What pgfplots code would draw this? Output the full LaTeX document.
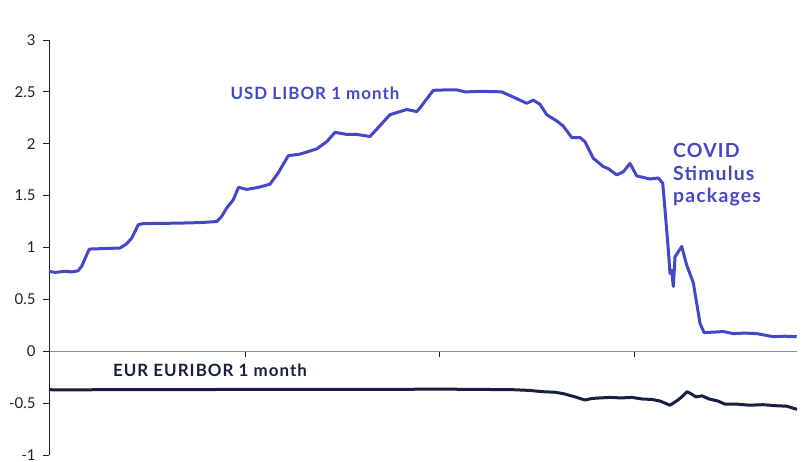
\documentclass[border=0pt]{standalone}
\usepackage{pgfplots}
\pgfplotsset{compat=1.18}
\usepackage{fontspec}
\setmainfont{Lato}
\newfontfamily\lbl{Lato}[LetterSpace=6]
\definecolor{usdblue}{HTML}{4447C8}
\definecolor{eurnavy}{HTML}{17203F}
\definecolor{tickcol}{HTML}{1F1F2E}
\definecolor{zerogray}{HTML}{8C8C8C}
\begin{document}
\begin{tikzpicture}
\begin{axis}[
  name=ax,
  scale only axis,
  width=748bp, height=415bp,
  xmin=49, xmax=797, ymin=-1, ymax=3,
  axis x line=middle, axis y line=left,
  x axis line style={-, draw=zerogray, line width=1.2bp},
  y axis line style={-, draw=tickcol, line width=1bp},
  xtick={245,439,634}, xticklabels={},
  ytick={-1,-0.5,0,0.5,1,1.5,2,2.5,3},
  yticklabels={-1,-0.5,0,0.5,1,1.5,2,2.5,3},
  tick align=outside,
  major tick length=6bp,
  x tick style={draw=tickcol, line width=0.8bp},
  y tick style={draw=tickcol, line width=0.8bp},
  yticklabel style={font=\fontsize{15}{18}\selectfont, text=tickcol, anchor=east, xshift=-4bp},
  clip=false,
]
\addplot[color=eurnavy, line width=3bp, line join=round] coordinates {
(49,-0.371) (80,-0.372) (120,-0.369) (150,-0.370) (200,-0.369) (250,-0.368)
(300,-0.368) (350,-0.368) (400,-0.367) (440,-0.365) (480,-0.368) (512,-0.370)
(530,-0.378) (543,-0.390) (555,-0.395) (564,-0.410) (575,-0.44) (585,-0.47)
(592,-0.455) (600,-0.45) (610,-0.445) (621,-0.45) (632,-0.445) (642,-0.46)
(652,-0.465) (660,-0.48) (670,-0.52) (678,-0.47) (683,-0.43) (687,-0.39)
(691,-0.41) (696,-0.44) (702,-0.43) (709,-0.46) (718,-0.48) (725,-0.51)
(737,-0.51) (750,-0.52) (763,-0.515) (776,-0.525) (787,-0.53) (797,-0.56)
};
\addplot[color=usdblue, line width=3bp, line join=round] coordinates {
(49,0.77) (55,0.76) (65,0.77) (72,0.765) (78,0.775) (81.7,0.82) (89.3,0.985)
(105,0.99) (120,0.995) (126,1.03) (131.7,1.09) (138.3,1.22) (143.3,1.23)
(180,1.235) (200,1.24) (216.7,1.25) (221.7,1.30) (226.7,1.38) (233.3,1.46)
(238.5,1.58) (246.7,1.56) (258.3,1.58) (270,1.61) (278.3,1.72) (288.3,1.885)
(300,1.90) (310,1.93) (316.7,1.95) (326.7,2.02) (335,2.11) (346.7,2.09)
(356.7,2.09) (370,2.07) (376.7,2.14) (390,2.28) (406.7,2.33) (416.7,2.31)
(420,2.345) (425,2.41) (433.3,2.515) (448.3,2.52) (456.7,2.52) (465,2.50)
(483.3,2.505) (501.7,2.50) (513.3,2.45) (526.7,2.39) (533.3,2.42) (540,2.38)
(546.7,2.28) (556.7,2.22) (563.3,2.17) (571.7,2.06) (580,2.06) (585,2.02)
(593.3,1.86) (603.3,1.78) (608.3,1.76) (616.7,1.70) (623.3,1.73) (630,1.81)
(636.7,1.69) (650,1.66) (658.3,1.67) (662.7,1.62) (665,1.365) (668.3,0.98)
(670,0.75) (671.7,0.78) (673.3,0.625) (675,0.91) (681.7,1.01) (686.7,0.83)
(693.3,0.66) (700,0.27) (704,0.18) (715,0.185) (723.3,0.19) (733.3,0.17)
(745,0.175) (756.7,0.17) (765,0.155) (773.3,0.14) (785,0.145) (796.7,0.14)
};
\node[text=usdblue, font=\lbl\fontsize{17}{20}\selectfont\bfseries] at (axis cs:315,2.483) {USD LIBOR 1 month};
\node[text=eurnavy, font=\lbl\fontsize{17}{20}\selectfont\bfseries] at (axis cs:210,-0.188) {EUR EURIBOR 1 month};
\node[text=usdblue, font=\lbl\fontsize{19.5}{22.5}\selectfont\bfseries, align=left, anchor=west, inner sep=0pt] at (axis cs:673,1.70) {COVID\\Stimulus\\packages};
\end{axis}
\pgfresetboundingbox
\path[use as bounding box] ([shift={(-49bp,-7bp)}]ax.south west) rectangle ([shift={(14bp,40bp)}]ax.north east);
\end{tikzpicture}
\end{document}
